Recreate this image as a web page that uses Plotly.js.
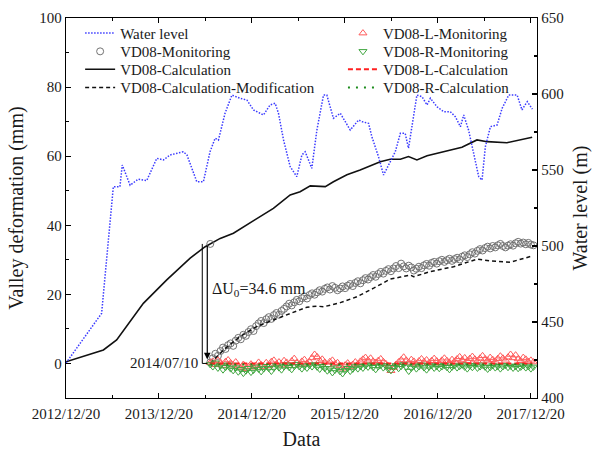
<!DOCTYPE html>
<html>
<head>
<meta charset="utf-8">
<script src="https://cdn.plot.ly/plotly-3.0.1.min.js"></script>
<style>
  html, body { margin: 0; padding: 0; background: #fff; }
  #chart { width: 592px; height: 450px; }
</style>
</head>
<body>
<div id="chart"></div>
<script>
// Reservoir water level (m), plotted against the right axis
const waterDates = ['2012-12-20','2013-05-09','2013-06-24','2013-07-20','2013-07-29','2013-08-29','2013-09-30','2013-11-02','2013-12-12',
  '2014-01-07','2014-02-02','2014-03-26','2014-04-09','2014-05-18','2014-06-13','2014-07-09','2014-07-29','2014-08-11','2014-09-06',
  '2014-10-03','2014-11-04','2014-12-01','2014-12-27','2015-02-04','2015-03-02','2015-03-22','2015-04-04','2015-04-24','2015-05-20',
  '2015-06-15','2015-07-05','2015-07-18','2015-08-13','2015-09-02','2015-09-28','2015-10-11','2015-11-06','2015-12-03','2016-01-11',
  '2016-02-13','2016-02-26','2016-03-23','2016-04-05','2016-05-01','2016-05-21','2016-06-10','2016-07-06','2016-07-26','2016-08-14',
  '2016-08-27','2016-09-16','2016-09-29','2016-10-19','2016-11-08','2016-11-21','2016-12-17','2017-01-12','2017-02-07','2017-02-27',
  '2017-03-19','2017-04-01','2017-04-20','2017-05-10','2017-05-30','2017-06-12','2017-06-25','2017-07-15','2017-08-10','2017-08-30',
  '2017-09-25','2017-10-28','2017-11-16','2017-11-28','2017-12-07','2017-12-27'];
const waterLevel = [423, 455.7, 539, 539, 553.3, 540, 544, 543, 557.7,
  556.6, 559.9, 562, 560, 542.3, 542.3, 562, 570.9, 569.7, 587.3,
  599.3, 597.2, 596, 589.5, 586.2, 592.8, 593.9, 587.3, 569.7, 552.2,
  545.6, 559.9, 562, 551.1, 576.3, 599.3, 599.3, 584, 587.3, 576.3,
  582.9, 581.8, 580.7, 571.9, 558.8, 546.7, 553.3, 562, 574.1, 574.1,
  564.3, 587.3, 599.3, 598.2, 592.8, 597.2, 591.6, 588.4, 588.4, 585.1,
  578.5, 586.2, 576.3, 561, 545.6, 543.4, 565.3, 578.5, 579.6, 590.6,
  599.3, 599.3, 589.5, 592.8, 595, 590];

// VD08 calculated valley deformation (mm)
const calcDates = ['2012-12-20','2013-05-16','2013-07-07','2013-09-11','2013-10-20','2014-01-20','2014-04-22','2014-06-20','2014-07-10',
  '2014-08-18','2014-10-09','2014-12-27','2015-03-15','2015-05-20','2015-06-28','2015-08-07','2015-10-05','2015-11-06','2015-12-29',
  '2016-02-19','2016-03-30','2016-05-08','2016-06-16','2016-07-26','2016-08-27','2016-09-29','2016-11-08','2016-12-30','2017-03-25',
  '2017-05-23','2017-07-02','2017-09-18','2017-11-10','2017-12-26'];
const calcValues = [0.5, 3.9, 6.8, 13.5, 17.4, 24.2, 30.5, 33.8, 34.6,
  36.2, 37.7, 41.3, 44.9, 48.8, 49.7, 51.4, 51.2, 52.6, 54.6,
  56, 57.2, 58.4, 59.1, 59.1, 59.9, 58.9, 60.1, 61, 62.6,
  64.7, 64.2, 63.9, 64.7, 65.5];

// VD08 modified calculation, counted from the start of monitoring (mm)
const modDates = ['2014-07-10','2014-08-31','2014-11-04','2015-01-09','2015-03-15','2015-05-20','2015-07-25','2015-09-02','2015-09-28',
  '2015-12-03','2016-02-06','2016-04-12','2016-06-16','2016-07-26','2016-09-03','2016-09-16','2016-11-21','2017-02-20','2017-05-23',
  '2017-07-15','2017-10-01','2017-12-26'];
const modValues = [0, 3.9, 7.8, 10.7, 12.6, 14.5, 16.3, 16.6, 16.4,
  17.6, 19.3, 21.8, 24.4, 25, 25.6, 25.1, 26.6, 28, 30.2,
  29.7, 29.3, 31.1];

// Monitoring campaign: one reading every 10 days from 2014/07/10
const monitorStart = '2014-07-10';
const monitorStepDays = 10;
const vd08Monitoring = [0.3, 1.5, 2.8, 2.2, 3.6, 4.6, 4.2, 5.3, 5.8, 5.1,
  6.6, 7.4, 7.0, 8.3, 8.0, 9.1, 9.9, 9.4, 10.8, 11.6,
  12.3, 11.7, 12.8, 13.4, 12.9, 14.0, 14.6, 14.1, 15.2, 15.8,
  16.5, 17.3, 16.8, 17.7, 18.4, 18.0, 18.9, 19.4, 18.8, 19.8,
  20.3, 19.9, 20.6, 21.2, 20.8, 21.6, 22.0, 21.4, 22.4, 21.9,
  21.2, 21.7, 22.3, 21.8, 22.5, 23.0, 22.4, 23.3, 23.8, 23.2,
  24.1, 24.7, 24.3, 25.0, 25.6, 25.1, 25.9, 26.5, 26.0, 26.8,
  27.3, 26.7, 27.5, 28.2, 27.6, 28.9, 28.1, 27.5, 28.3, 27.8,
  26.9, 27.4, 28.0, 27.6, 28.4, 28.8, 28.3, 29.1, 29.4, 28.9,
  29.6, 30.0, 29.4, 29.9, 30.3, 29.7, 30.2, 30.6, 30.1, 30.9,
  31.3, 30.8, 31.6, 32.2, 31.8, 32.6, 33.1, 32.7, 33.4, 33.8,
  33.3, 34.0, 33.6, 34.2, 34.6, 34.0, 33.6, 34.1, 34.5, 34.1,
  34.8, 35.2, 34.7, 35.0, 34.5, 34.9, 34.4, 34.2];
const vd08LMonitoring = [0.2, 0.6, -0.4, 0.9, 0.3, -0.6, 0.5, 1.0, 0.1, -0.5,
  0.4, -0.8, -1.2, -0.3, -1.5, -0.9, -0.2, -1.1, -0.6, 0.3,
  -0.4, -1.0, 0.2, -0.7, 0.5, 0.9, -0.2, 0.4, -0.5, 0.8,
  0.3, -0.6, 0.7, 1.4, 0.2, -0.3, 0.6, 1.1, 0.0, 0.5,
  1.6, 2.6, 1.9, 0.8, 1.2, 0.3, -0.4, 0.5, 0.9, -0.2,
  0.2, -0.7, -1.4, -0.5, 0.1, -0.9, -0.3, 0.4, -0.2, 0.6,
  1.2, 1.7, 0.9, 1.5, 0.6, 0.2, 0.8, 1.3, 0.5, -0.1,
  -0.8, -2.1, -1.2, -0.3, 0.4, 1.0, 1.8, 0.9, 0.3, 1.1,
  0.6, -0.2, 0.7, 1.3, 0.5, 1.0, 0.2, 0.8, 1.4, 0.7,
  0.1, 0.9, 1.5, 0.8, 0.3, 1.1, 0.6, 1.3, 1.9, 1.0,
  1.6, 0.8, 1.4, 2.0, 1.2, 0.7, 1.5, 2.2, 1.3, 0.9,
  1.7, 1.1, 0.6, 1.4, 2.1, 1.5, 0.9, 1.8, 2.6, 1.6,
  2.4, 1.3, 0.8, 1.7, 1.2, 0.5, 0.9, 0.4];
const vd08RMonitoring = [-0.3, -0.9, 0.2, -1.3, -0.6, -1.8, -1.1, -0.4, -1.5, -2.0,
  -1.2, -2.4, -1.7, -2.8, -2.1, -1.4, -2.5, -1.9, -1.0, -1.6,
  -2.3, -1.5, -0.8, -1.4, -2.2, -1.3, -0.6, -1.2, -1.8, -0.9,
  -0.4, -1.1, -1.7, -0.8, -0.2, -0.9, -1.5, -0.7, -1.3, -0.5,
  -0.9, -0.3, -1.0, -1.6, -0.8, -1.4, -2.1, -1.5, -2.6, -1.9,
  -1.2, -2.3, -2.9, -2.0, -1.4, -2.2, -1.6, -0.9, -1.5, -0.8,
  -1.3, -0.6, -1.0, -0.4, -1.1, -1.7, -0.9, -0.5, -1.2, -0.7,
  -1.6, -2.0, -1.1, -0.6, -1.4, -0.8, -0.3, -1.0, -2.2, -1.3,
  -0.7, -1.5, -0.9, -0.4, -1.2, -1.8, -1.0, -0.6, -1.3, -0.8,
  -1.4, -0.9, -0.5, -1.1, -1.7, -1.0, -0.6, -1.2, -0.8, -0.4,
  -1.0, -1.5, -0.7, -1.1, -0.5, -1.3, -0.9, -0.4, -1.0, -1.6,
  -1.1, -0.6, -1.2, -0.8, -1.5, -0.9, -0.5, -1.1, -0.7, -1.3,
  -0.8, -1.4, -1.0, -0.6, -1.2, -0.9, -1.5, -1.0];

// Bank-side calculations (mm)
const sideCalcDates = ['2014-07-10', '2017-12-26'];
const lCalcValues = [0, 0];
const rCalcValues = [-0.3, -0.3];

// Initial deformation before monitoring began
const offsetDate = '2014-07-10';
const offsetValue = 34.6;

function monitorDates(n) {
  const t0 = Date.parse(monitorStart + 'T00:00:00Z');
  const out = [];
  for (let i = 0; i < n; i++) {
    out.push(new Date(t0 + i * monitorStepDays * 86400000).toISOString().slice(0, 10));
  }
  return out;
}
const mDates = monitorDates(vd08Monitoring.length);

const FONT = '"Liberation Serif", "Times New Roman", serif';
const INK = '#1a1a1a';

const traces = [
  { name: 'Water level', legend: 'legend', x: waterDates, y: waterLevel, yaxis: 'y2',
    mode: 'lines', line: { color: '#3a3aff', width: 1.5, dash: '1.5px,1.5px' } },
  { name: 'VD08-Monitoring', legend: 'legend2', x: mDates, y: vd08Monitoring,
    mode: 'markers', marker: { symbol: 'circle-open', size: 7, color: '#737373', line: { width: 1 } } },
  { name: 'VD08-Calculation', legend: 'legend3', x: calcDates, y: calcValues,
    mode: 'lines', line: { color: '#111', width: 1.6 } },
  { name: 'VD08-Calculation-Modification', legend: 'legend4', x: modDates, y: modValues,
    mode: 'lines', line: { color: '#111', width: 1.5, dash: '4px,3px' } },
  { name: 'VD08-L-Monitoring', legend: 'legend5', x: mDates, y: vd08LMonitoring,
    mode: 'markers', marker: { symbol: 'triangle-up-open', size: 7, color: '#ff5a5a', line: { width: 1 } } },
  { name: 'VD08-R-Monitoring', legend: 'legend6', x: mDates, y: vd08RMonitoring,
    mode: 'markers', marker: { symbol: 'triangle-down-open', size: 7, color: '#40a640', line: { width: 1 } } },
  { name: 'VD08-L-Calculation', legend: 'legend7', x: sideCalcDates, y: lCalcValues,
    mode: 'lines', line: { color: '#ff2020', width: 2, dash: '5px,3px' } },
  { name: 'VD08-R-Calculation', legend: 'legend8', x: sideCalcDates, y: rCalcValues,
    mode: 'lines', line: { color: '#1c8c1c', width: 2, dash: '2px,6px' } },
  { x: [offsetDate], y: [offsetValue], mode: 'markers', showlegend: false,
    marker: { symbol: 'circle-open', size: 7, color: '#737373', line: { width: 1 } } }
];

// Two legend columns, four rows each
const legendCols = [0.03, 0.588];
const legendRows = [1.003, 0.955, 0.908, 0.86];
const legendKeys = ['legend', 'legend2', 'legend3', 'legend4', 'legend5', 'legend6', 'legend7', 'legend8'];

const axisCommon = {
  showline: true, linecolor: '#000', linewidth: 1.2,
  ticks: 'inside', ticklen: 5, tickwidth: 1.1, tickcolor: '#000',
  showgrid: false, zeroline: false,
  tickfont: { family: FONT, size: 15, color: INK }
};

const layout = {
  width: 592, height: 450,
  margin: { l: 66, r: 55, t: 18, b: 52 },
  paper_bgcolor: '#fff', plot_bgcolor: '#fff',
  font: { family: FONT, color: INK },
  xaxis: Object.assign({}, axisCommon, {
    type: 'date', range: ['2012-12-20', '2018-01-14'],
    tick0: '2012-12-20', dtick: 'M12', tickformat: '%Y/%m/%d',
    mirror: 'ticks', ticklabelstandoff: 2,
    minor: { tick0: '2012-12-20', dtick: 'M6', ticks: 'inside', ticklen: 3, tickcolor: '#000', showgrid: false },
    title: { text: 'Data', font: { family: FONT, size: 20, color: INK }, standoff: 10 }
  }),
  yaxis: Object.assign({}, axisCommon, {
    range: [-10, 100], tick0: 0, dtick: 20,
    minor: { dtick: 10, ticks: 'inside', ticklen: 3, tickcolor: '#000', showgrid: false },
    title: { text: 'Valley deformation (mm)', font: { family: FONT, size: 20, color: INK }, standoff: 10 }
  }),
  yaxis2: Object.assign({}, axisCommon, {
    overlaying: 'y', side: 'right', range: [400, 650], tick0: 400, dtick: 50,
    minor: { dtick: 25, ticks: 'inside', ticklen: 3, tickcolor: '#000', showgrid: false },
    title: { text: 'Water level (m)', font: { family: FONT, size: 20, color: INK }, standoff: 10 }
  }),
  annotations: [
    { x: offsetDate, y: 0, ax: offsetDate, ay: offsetValue, axref: 'x', ayref: 'y',
      xshift: -3, showarrow: true, arrowhead: 2, arrowsize: 1.1, arrowwidth: 1.2, arrowcolor: '#000',
      standoff: 4, text: '' },
    { x: offsetDate, y: 0, xanchor: 'right', yanchor: 'middle', xshift: -10, showarrow: false,
      text: '2014/07/10', font: { family: FONT, size: 15, color: INK } },
    { x: offsetDate, y: 21.3, xanchor: 'left', yanchor: 'middle', xshift: 0, showarrow: false,
      text: 'ΔU<sub>0</sub>=' + offsetValue + ' mm', font: { family: FONT, size: 16, color: INK } }
  ],
  shapes: [
    { type: 'line', xref: 'x', yref: 'y', xsizemode: 'pixel', xanchor: offsetDate,
      x0: -8, x1: -8, y0: offsetValue, y1: 0, line: { color: '#000', width: 1 } },
    { type: 'line', xref: 'x', yref: 'y', xsizemode: 'pixel', xanchor: offsetDate,
      x0: -8, x1: -3, y0: 0, y1: 0, line: { color: '#000', width: 1 } }
  ]
};

legendKeys.forEach((key, i) => {
  layout[key] = {
    x: legendCols[Math.floor(i / 4)], y: legendRows[i % 4],
    xanchor: 'left', yanchor: 'top',
    bgcolor: 'rgba(0,0,0,0)', borderwidth: 0,
    font: { family: FONT, size: 15, color: INK }
  };
});

Plotly.newPlot('chart', traces, layout, { displayModeBar: false, staticPlot: true });
</script>
</body>
</html>
